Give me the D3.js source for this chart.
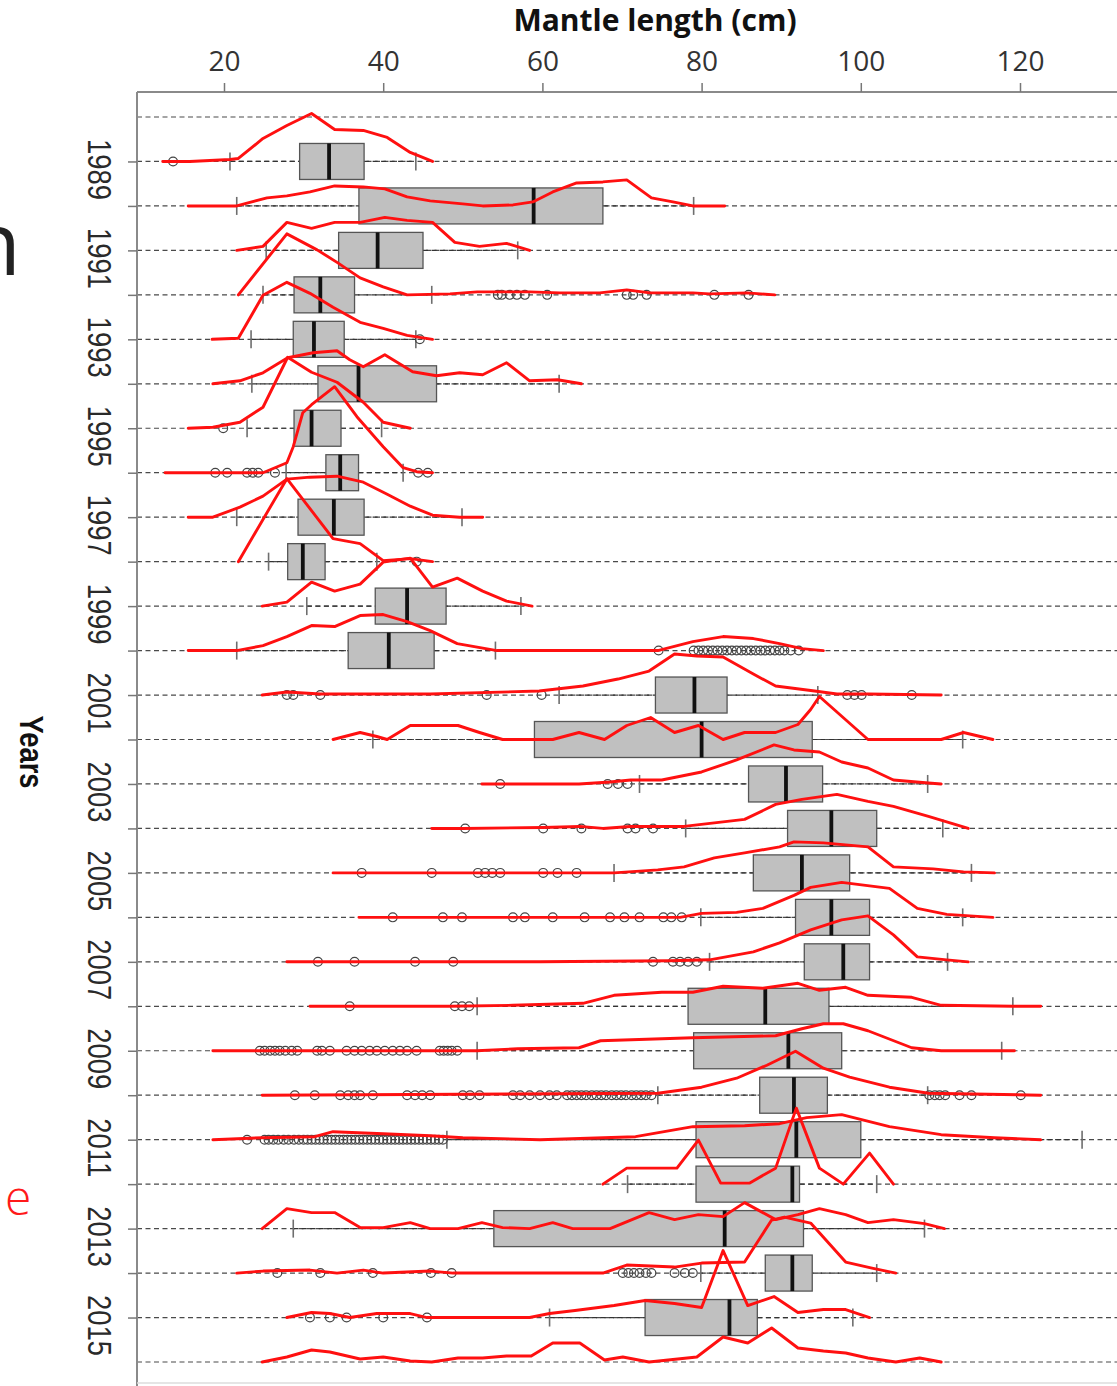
<!DOCTYPE html>
<html>
<head>
<meta charset="utf-8">
<script src="https://cdn.jsdelivr.net/npm/d3@7"></script>
<style>
  body { margin: 0; background: #fff; }
  svg { display: block; }
</style>
</head>
<body>
<svg id="chart" width="1117" height="1386"></svg>
<script>
// ---- data -------------------------------------------------------------
// every row of the plot (1988 is an empty spacer row at the top)
const rowYears = [1988, 1989, 1990, 1991, 1992, 1993, 1994, 1995, 1996, 1997, 1998, 1999,
  2000, 2001, 2002, 2003, 2004, 2005, 2006, 2007, 2008, 2009, 2010, 2011, 2012, 2013,
  2014, 2015, 2016];

// years with a box plot
const boxYears = [1989, 1990, 1991, 1992, 1993, 1994, 1995, 1996, 1997, 1998, 1999, 2000,
  2001, 2002, 2003, 2004, 2005, 2006, 2007, 2008, 2009, 2010, 2011, 2012, 2013, 2014, 2015];

// mantle length summaries (cm)
const whiskerLow = [20.75, 21.6, 25.3, 24.9, 23.4, 23.5, 22.9, 27.8, 21.6, 25.6, 30.4, 21.6,
  62.1, 38.7, 72.2, 78.0, 69.0, 79.9, 81.0, 51.8, 51.8, 74.5, 48.0, 70.7, 28.7, 79.9, 60.9];
const quart1 = [29.5, 36.95, 34.4, 28.8, 28.7, 31.8, 28.8, 32.8, 29.3, 28.0, 39.0, 35.6,
  74.2, 59.0, 85.9, 90.8, 86.5, 91.8, 92.9, 78.3, 79.0, 87.3, 79.3, 79.3, 53.9, 88.0, 72.9];
const medians = [33.2, 58.9, 39.3, 32.1, 31.3, 36.9, 31.0, 34.6, 33.8, 29.9, 43.0, 40.7,
  79.1, 80.0, 90.6, 96.3, 92.6, 96.3, 97.8, 88.0, 90.9, 91.6, 91.9, 91.4, 82.9, 91.4, 83.5];
const quart3 = [37.6, 67.6, 45.0, 36.4, 35.1, 46.7, 34.7, 36.9, 37.6, 32.7, 47.9, 46.4,
  83.2, 93.9, 95.2, 102.0, 98.6, 101.1, 101.1, 96.0, 97.6, 95.8, 100.0, 92.3, 92.8, 93.9, 87.0];
const whiskerHigh = [44.1, 79.0, 56.9, 46.1, 44.1, 62.1, 39.8, 42.5, 49.9, 39.2, 57.3, 54.1,
  94.6, 112.8, 108.4, 110.3, 113.9, 112.8, 110.9, 119.1, 117.7, 108.4, 127.8, 102.0, 108.0, 102.0, 99.0];

// outlying individuals, one list per box year
const outlierValues = [
  [13.6],
  [],
  [],
  [54.4, 54.9, 55.9, 56.8, 57.8, 60.6, 70.6, 71.4, 73.1, 81.6, 85.9],
  [44.6],
  [],
  [19.9],
  [18.9, 20.4, 22.9, 23.6, 24.3, 26.4, 44.4, 45.6],
  [],
  [44.2],
  [],
  [74.6, 79.0, 79.6, 80.2, 80.8, 81.4, 82.0, 82.6, 83.2, 83.8, 84.4, 85.0, 85.6, 86.2, 86.8,
   87.4, 88.0, 88.6, 89.2, 89.8, 90.4, 91.2, 92.2],
  [27.9, 28.7, 32.1, 53.0, 59.9, 98.3, 99.2, 100.1, 106.4],
  [],
  [54.7, 68.2, 69.5, 70.7],
  [50.3, 60.1, 64.9, 70.7, 71.7, 73.9],
  [37.3, 46.1, 51.9, 52.8, 53.7, 54.7, 60.1, 61.9, 64.3],
  [41.2, 47.5, 49.9, 56.3, 57.8, 61.3, 65.3, 68.5, 70.3, 72.2, 75.2, 76.2, 77.5],
  [31.8, 36.4, 44.0, 48.8, 73.9, 76.4, 77.3, 78.3, 79.4],
  [35.8, 49.0, 49.9, 50.8],
  [24.5, 25.1, 25.8, 26.4, 27.0, 27.7, 28.5, 29.2, 31.7, 32.3, 33.3, 35.4, 36.4, 37.3, 38.3,
   39.2, 40.2, 41.2, 42.1, 43.0, 44.2, 47.1, 47.6, 48.1, 48.6, 49.3],
  [28.9, 31.4, 34.6, 35.6, 36.4, 37.1, 38.7, 43.0, 44.0, 44.9, 45.9, 50.0, 50.9, 52.1, 56.3,
   57.2, 58.4, 59.7, 60.9, 61.8, 63.1, 63.7, 64.3, 64.9, 65.5, 66.2, 66.8, 67.4, 68.0, 68.7,
   69.3, 69.9, 70.5, 71.2, 71.8, 72.4, 73.0, 73.7, 108.6, 109.3, 109.9, 110.6, 112.4, 113.9, 120.1],
  [22.9, 25.1, 25.6, 26.2, 26.8, 27.5, 28.1, 28.8, 29.4, 30.0, 30.5, 31.0, 31.5, 32.0, 32.5,
   33.0, 33.5, 34.0, 34.5, 35.0, 35.5, 36.0, 36.5, 37.0, 37.5, 38.0, 38.5, 39.0, 39.5, 40.0,
   40.5, 41.0, 41.5, 42.0, 42.5, 43.0, 43.5, 44.0, 44.5, 45.0, 45.5, 46.0, 46.5, 47.0, 47.5],
  [],
  [],
  [26.7, 32.1, 38.7, 46.0, 48.6, 70.1, 70.8, 71.5, 72.2, 73.0, 73.7, 76.6, 77.9, 78.9],
  [30.8, 33.3, 35.4, 40.0, 45.5]
];

// length-frequency polygons: [mantle length (cm), relative frequency (%)]
const curveYears = [1989, 1990, 1991, 1992, 1993, 1994, 1995, 1996, 1997, 1998, 1999, 2000,
  2001, 2002, 2003, 2004, 2005, 2006, 2007, 2008, 2009, 2010, 2011, 2012, 2013, 2014, 2015, 2016];
const freqCurves = [
  [[12.3,0],[15.7,0],[20.75,1],[21.8,1.5],[24.9,11.5],[27.9,18],[31.0,24],[33.9,16],[37.5,15.5],[40.5,12],[43.4,4.5],[46.2,0]],
  [[15.5,0],[18.6,0],[21.6,0],[25.4,4],[27.9,5],[30.8,7],[33.9,10],[37.5,9.5],[40.2,8.5],[43.0,4.5],[45.9,2.5],[50.0,1],[52.5,0],[56.3,0.5],[58.8,2],[61.3,7],[64.3,11.5],[67.6,12],[70.6,13],[73.7,4],[76.4,2],[78.9,0],[82.9,0]],
  [[21.6,0],[24.9,2],[27.9,14],[31.0,11],[33.9,14],[37.1,14],[40.2,16.5],[43.0,15],[46.2,14],[49.0,4],[52.1,2],[55.5,3.5],[58.4,0]],
  [[21.8,0],[27.9,30.5],[31.7,22.5],[34.3,16],[37.1,8.5],[40.0,4],[43.0,0],[48.4,0.5],[51.8,1.5],[58.4,1.5],[62.2,1],[67.2,1],[70.6,2.5],[73.5,1],[78.9,1],[81.0,0.5],[85.7,1],[89.2,0]],
  [[18.5,0],[21.8,0.5],[24.9,22],[27.9,28.5],[30.8,23],[33.7,16],[37.1,8.5],[40.0,5.5],[43.0,2],[46.2,0]],
  [[18.6,0],[22.0,1.5],[24.9,5.5],[28.0,13],[31.2,15.5],[34.2,16.5],[35.8,12],[37.5,8.5],[40.2,14.5],[43.7,6],[46.7,4],[49.6,5.5],[52.5,4.5],[55.5,10.5],[58.4,1.5],[61.9,2],[64.9,0]],
  [[15.5,0],[18.6,0.5],[22.0,3],[24.9,10.5],[28.0,35.5],[31.0,28],[34.2,23],[37.5,13],[40.0,3],[43.4,0]],
  [[12.6,0],[18.9,0],[24.9,0],[27.9,5],[28.7,13],[29.9,30],[31.0,34],[33.9,43],[36.7,28],[40.0,13],[42.5,2.5],[44.2,0.5],[46.2,0]],
  [[15.5,0],[18.6,0],[22.0,5],[24.9,10.5],[27.9,19],[30.8,20],[34.2,20.5],[37.5,17.5],[40.5,11.5],[43.4,5.5],[46.2,1],[49.6,0],[52.5,0]],
  [[21.8,0],[27.9,41.5],[30.8,26.5],[33.7,11.5],[37.1,9],[40.0,0.5],[43.4,1.5],[46.2,0]],
  [[24.8,0],[27.9,2],[31.0,12],[33.9,7.5],[37.1,11],[40.0,22],[43.4,24],[46.2,9.5],[49.3,14],[52.5,7.5],[55.5,2.5],[58.7,0]],
  [[15.5,0],[21.6,0],[24.9,2.5],[27.9,7],[31.0,12.5],[33.9,12],[37.1,17.5],[40.0,18],[43.0,14.5],[45.9,10],[49.3,3.5],[54.3,0],[67.2,0],[74.5,0],[78.9,4.5],[82.7,7],[86.5,6],[89.8,3.5],[92.6,1],[95.3,0]],
  [[24.8,0],[27.9,1.5],[32.1,0.5],[45.9,0.5],[59.6,2],[65.1,4.5],[69.5,8],[73.4,12],[76.6,20.5],[79.4,19.5],[82.7,19],[86.5,10.5],[89.3,4.5],[94.2,2],[97.0,0.5],[100.9,0.5],[110.1,0]],
  [[33.7,0],[37.1,3.5],[39.2,1.5],[40.5,0],[43.4,7],[49.4,7],[52.1,3.5],[55.0,0],[61.3,0],[64.6,3.5],[67.8,0],[70.6,7],[73.6,11],[76.6,3.5],[79.6,7],[82.7,0],[85.4,3.5],[89.3,3.5],[92.1,7.5],[93.7,15],[94.8,21.5],[100.9,0],[110.1,0],[112.9,3.5],[116.6,0]],
  [[52.4,0],[56.9,0],[64.6,0],[68.5,1],[71.1,2],[75.0,2],[80.0,6],[84.4,12],[89.1,19.5],[91.6,17],[94.8,16],[97.6,11],[100.9,8],[104.1,2],[108.5,0.5],[110.1,0]],
  [[46.1,0],[50.0,0],[60.1,0.5],[64.7,1],[67.6,0],[71.0,1],[77.8,1],[85.4,4.5],[89.3,12],[92.6,14.5],[97.0,17],[100.9,13.5],[104.1,11],[108.5,6],[113.5,0]],
  [[33.7,0],[69.0,0],[74.5,1.5],[77.8,3],[81.6,7.5],[85.4,10],[89.8,13],[91.6,15.5],[95.3,15],[100.9,13],[104.1,3],[109.1,2],[112.9,0.5],[116.8,0]],
  [[36.95,0],[77.3,0],[80.0,2],[84.4,2.5],[87.7,4.5],[91.6,11],[93.7,15],[97.6,17.5],[103.6,14.5],[107.1,4.5],[110.8,1.5],[116.6,0]],
  [[27.9,0],[59.7,0],[76.0,0.5],[81.0,1],[86.5,5],[89.8,9.5],[93.7,16],[97.6,21],[100.9,23],[104.1,13.5],[107.1,2.5],[110.8,1],[113.5,0]],
  [[30.8,0],[48.4,0],[56.3,0.5],[65.1,1.5],[69.0,5.5],[75.0,7],[78.9,7],[82.7,10],[87.7,9],[92.1,11.5],[94.8,8],[98.1,9.5],[100.9,5.5],[106.4,4.5],[110.1,0.5],[119.1,0],[122.6,0]],
  [[18.6,0],[51.8,0],[56.9,1],[64.6,1.5],[67.3,5],[78.9,6.5],[89.3,7.5],[92.6,11],[95.3,13.5],[97.8,13.5],[100.9,10],[106.4,1.5],[110.1,0],[119.3,0]],
  [[24.8,0],[74.5,1],[80.0,4],[84.4,8.5],[88.2,15],[91.8,22],[95.3,13.5],[98.6,9],[103.6,4],[108.5,1],[122.6,0]],
  [[18.6,0],[24.9,1],[31.4,1.5],[33.7,4],[40.0,3],[45.9,2],[50.0,1],[59.7,0],[71.7,1.5],[78.9,6.5],[85.4,7],[89.8,8],[93.2,11],[97.6,12.5],[103.6,6.5],[110.1,2.5],[116.8,1],[122.6,0]],
  [[67.6,0],[70.6,8],[76.9,8],[79.6,22],[82.4,0.5],[86.0,0.5],[89.3,8],[91.9,38],[94.8,8],[97.8,0],[101.1,15.5],[104.1,0]],
  [[24.8,0],[27.9,10],[31.0,8],[33.9,8],[37.1,0.5],[40.0,0.5],[43.4,3],[45.9,0],[49.4,0],[52.4,3],[55.0,0.5],[58.4,0],[61.3,3],[63.8,0],[68.5,0],[73.4,8],[76.6,4.5],[79.6,7],[82.7,6],[85.4,13],[89.3,4.5],[92.1,7],[94.8,10],[98.1,7],[100.9,3],[104.1,4.5],[108.0,2.5],[110.5,0]],
  [[21.6,0],[24.9,1],[30.8,1.5],[34.2,0],[37.5,1.5],[40.0,0],[45.9,1],[48.8,0],[67.6,0],[70.6,4],[76.6,3],[80.0,5],[85.4,5.5],[88.8,26.5],[90.4,28],[93.7,25],[98.1,5.5],[101.4,2.5],[104.4,0]],
  [[27.9,0],[31.0,2.5],[33.3,2],[35.8,0],[39.2,2],[43.4,2],[45.5,0],[58.4,0],[60.9,2],[64.1,3.5],[69.0,6],[72.9,8.5],[76.6,7],[80.0,5],[82.7,33.5],[85.8,6],[89.1,10.5],[92.1,2.5],[95.3,4],[98.1,4],[101.1,0]],
  [[24.8,0],[27.9,2.5],[31.0,6],[33.3,5],[37.1,1.5],[40.0,2.5],[43.4,0.5],[46.1,0],[49.4,2],[52.5,2],[55.5,3],[58.6,3],[61.3,9.5],[64.7,9.5],[67.8,1],[70.1,2.5],[73.4,0],[79.4,2.5],[82.7,12.5],[85.8,9.5],[88.8,17],[92.1,7],[95.3,5.5],[98.1,4.5],[100.9,2],[104.4,0],[107.4,2],[110.1,0]]
];

const xTickValues = [20, 40, 60, 80, 100, 120];
const yLabelYears = [1989, 1991, 1993, 1995, 1997, 1999, 2001, 2003, 2005, 2007, 2009, 2011, 2013, 2015];

// ---- layout ---------------------------------------------------------------
const W = 1117, H = 1386;
const plotLeft = 137, plotTop = 92;
const boxHalf = 18;

const svg = d3.select("#chart");

const x = d3.scaleLinear().domain([20, 120]).range([224, 1020]);
const y = d3.scalePoint().domain(rowYears).range([117, 1362]);
const freqPx = d3.scaleLinear().domain([0, 10]).range([0, 20]);

// stray text fragments at the left margin
svg.append("text")
  .attr("x", -33).attr("y", 275)
  .attr("font-family", "Open Sans").attr("font-size", 88)
  .attr("fill", "#222").text("n");
svg.append("text")
  .attr("x", 5).attr("y", 1215)
  .attr("font-family", "Open Sans").attr("font-weight", 300).attr("font-size", 48)
  .attr("fill", "#ff1a1a").text("e");

// horizontal dashed row lines
svg.append("g").selectAll("line").data(rowYears).join("line")
  .attr("x1", plotLeft).attr("x2", W)
  .attr("y1", d => y(d)).attr("y2", d => y(d))
  .attr("stroke", "#4a4a4a").attr("stroke-width", 1.2)
  .attr("stroke-dasharray", "5,3.5");

// frame
svg.append("line").attr("x1", plotLeft).attr("x2", W).attr("y1", plotTop).attr("y2", plotTop)
  .attr("stroke", "#8a8a8a").attr("stroke-width", 2);
svg.append("line").attr("x1", plotLeft).attr("x2", plotLeft).attr("y1", plotTop).attr("y2", H)
  .attr("stroke", "#8a8a8a").attr("stroke-width", 2);
svg.append("line").attr("x1", plotLeft).attr("x2", W).attr("y1", 1383).attr("y2", 1383)
  .attr("stroke", "#dcdcdc").attr("stroke-width", 1.5);

// top axis
const xAxis = svg.append("g")
  .attr("transform", `translate(0,${plotTop})`)
  .call(d3.axisTop(x).tickValues(xTickValues).tickSize(9).tickPadding(12));
xAxis.select(".domain").remove();
xAxis.selectAll(".tick line").attr("stroke", "#777").attr("stroke-width", 1.5);
xAxis.selectAll(".tick text")
  .attr("font-family", "Open Sans").attr("font-size", 28).attr("fill", "#333");

svg.append("text")
  .attr("x", 655).attr("y", 31)
  .attr("text-anchor", "middle")
  .attr("font-family", "Open Sans").attr("font-weight", 700).attr("font-size", 30)
  .attr("fill", "#111").text("Mantle length (cm)");

// left axis: ticks on every box row, labels on alternate years
const yAxis = svg.append("g")
  .attr("transform", `translate(${plotLeft},0)`)
  .call(d3.axisLeft(y).tickValues(boxYears).tickSize(9).tickFormat(""));
yAxis.select(".domain").remove();
yAxis.selectAll(".tick line").attr("stroke", "#777").attr("stroke-width", 1.5);

svg.append("g").selectAll("text").data(yLabelYears).join("text")
  .attr("transform", d => `translate(88,${y(d) + 8}) rotate(90) scale(0.83,1)`)
  .attr("text-anchor", "middle")
  .attr("font-family", "Liberation Sans, Arial, sans-serif").attr("font-size", 33)
  .attr("fill", "#2a2a2a").text(d => d);

svg.append("text")
  .attr("transform", "translate(20,752) rotate(90) scale(0.83,1)")
  .attr("text-anchor", "middle")
  .attr("font-family", "Liberation Sans, Arial, sans-serif").attr("font-weight", 700)
  .attr("font-size", 33).attr("fill", "#111").text("Years");

// box plots
const boxes = svg.append("g");
boxYears.forEach((yr, i) => {
  const cy = y(yr);
  const g = boxes.append("g");
  // whiskers
  g.append("line").attr("x1", x(whiskerLow[i])).attr("x2", x(quart1[i]))
    .attr("y1", cy).attr("y2", cy)
    .attr("stroke", "#333").attr("stroke-width", 1.2).attr("stroke-dasharray", "5,3.5");
  g.append("line").attr("x1", x(quart3[i])).attr("x2", x(whiskerHigh[i]))
    .attr("y1", cy).attr("y2", cy)
    .attr("stroke", "#333").attr("stroke-width", 1.2).attr("stroke-dasharray", "5,3.5");
  [whiskerLow[i], whiskerHigh[i]].forEach(v => {
    g.append("line").attr("x1", x(v)).attr("x2", x(v))
      .attr("y1", cy - 9).attr("y2", cy + 9)
      .attr("stroke", "#6e6e6e").attr("stroke-width", 1.6);
  });
  // interquartile box and median
  g.append("rect")
    .attr("x", x(quart1[i])).attr("y", cy - boxHalf)
    .attr("width", x(quart3[i]) - x(quart1[i])).attr("height", boxHalf * 2)
    .attr("fill", "#c0c0c0").attr("stroke", "#555").attr("stroke-width", 1.3);
  g.append("line").attr("x1", x(medians[i])).attr("x2", x(medians[i]))
    .attr("y1", cy - boxHalf).attr("y2", cy + boxHalf)
    .attr("stroke", "#111").attr("stroke-width", 3.8);
  // outliers
  g.selectAll("circle").data(outlierValues[i]).join("circle")
    .attr("cx", d => x(d)).attr("cy", cy).attr("r", 4.4)
    .attr("fill", "none").attr("stroke", "#444").attr("stroke-width", 1.2);
});

// length-frequency polygons
const line = d3.line();
svg.append("g").selectAll("path").data(curveYears).join("path")
  .attr("d", (yr, i) => line(freqCurves[i].map(p => [x(p[0]), y(yr) - freqPx(p[1])])))
  .attr("fill", "none").attr("stroke", "#ff1010").attr("stroke-width", 2.9)
  .attr("stroke-linejoin", "round").attr("stroke-linecap", "round");
</script>
</body>
</html>
